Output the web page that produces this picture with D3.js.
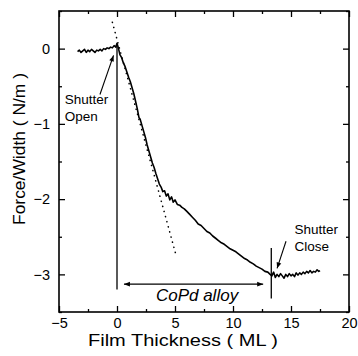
<!DOCTYPE html>
<html>
<head>
<meta charset="utf-8">
<script src="https://cdn.jsdelivr.net/npm/d3@7/dist/d3.min.js"></script>
<style>
  html, body { margin: 0; padding: 0; background: #fff; }
  svg { display: block; font-family: "Liberation Sans", Arial, sans-serif; }
</style>
</head>
<body>
<div id="chart"></div>
<script>
// Film thickness (ML) and measured force per width (N/m)
const thickness = [
  -3.40, -3.25, -3.10, -2.95, -2.80, -2.65, -2.50, -2.35, -2.20, -2.05,
  -1.90, -1.75, -1.60, -1.45, -1.30, -1.15, -1.00, -0.85, -0.70, -0.55,
  -0.40, -0.25, -0.10, 0.00,
  0.10, 0.25, 0.40, 0.55, 0.70, 0.85, 1.00, 1.15, 1.30, 1.45,
  1.60, 1.75, 1.90, 2.00, 2.15, 2.30, 2.45, 2.60, 2.75, 2.90,
  3.05, 3.20, 3.35, 3.50, 3.65, 3.80, 3.95, 4.10, 4.25, 4.40,
  4.55, 4.70, 4.85, 5.00, 5.20, 5.40, 5.60, 5.80, 6.00, 6.25,
  6.50, 6.75, 7.00, 7.25, 7.50, 7.75, 8.00, 8.25, 8.50, 8.75,
  9.00, 9.25, 9.50, 9.75, 10.00, 10.25, 10.50, 10.75, 11.00, 11.25,
  11.50, 11.75, 12.00, 12.25, 12.50, 12.75, 13.00, 13.20,
  13.35, 13.50, 13.65, 13.80, 13.95, 14.10, 14.25, 14.40, 14.55, 14.70,
  14.85, 15.00, 15.15, 15.30, 15.45, 15.60, 15.75, 15.90, 16.05, 16.20,
  16.35, 16.50, 16.65, 16.80, 16.95, 17.10, 17.25, 17.40, 17.50
];
const force = [
  -0.04, -0.02, -0.05, -0.03, -0.01, -0.05, -0.02, -0.04, -0.01, -0.03,
  -0.05, -0.02, -0.03, -0.01, -0.03, 0.00, -0.01, 0.01, 0.00, 0.02,
  0.01, 0.04, 0.02, 0.07,
  0.02, -0.08, -0.12, -0.19, -0.24, -0.31, -0.38, -0.44, -0.52, -0.60,
  -0.70, -0.80, -0.92, -0.94, -1.02, -1.10, -1.18, -1.28, -1.36, -1.44,
  -1.52, -1.58, -1.66, -1.73, -1.80, -1.84, -1.90, -1.89, -1.96, -1.93,
  -2.01, -1.97, -2.04, -2.01, -2.07, -2.08, -2.11, -2.13, -2.16, -2.20,
  -2.24, -2.28, -2.33, -2.35, -2.39, -2.43, -2.45, -2.49, -2.52, -2.55,
  -2.58, -2.60, -2.63, -2.66, -2.68, -2.70, -2.73, -2.76, -2.79, -2.81,
  -2.84, -2.86, -2.89, -2.91, -2.93, -2.96, -2.97, -3.00,
  -3.02, -2.97, -3.04, -3.00, -3.03, -2.99, -3.02, -3.05, -3.00, -3.03,
  -2.99, -3.02, -3.00, -3.03, -2.98, -3.01, -2.98, -3.00, -2.97, -2.99,
  -2.96, -2.98, -2.95, -2.98, -2.96, -2.97, -2.94, -2.96, -2.95
];

// initial slope guide (dotted)
const slopeX = [-0.4, 5.1];
const slopeY = [0.35, -2.75];

const xTicks = [-5, 0, 5, 10, 15, 20];
const xMinor = [-2.5, 2.5, 7.5, 12.5, 17.5];
const yTicks = [0, -1, -2, -3];
const yMinor = [0.5, -0.5, -1.5, -2.5, -3.5];

const width = 358;
const height = 356;
const margin = { top: 11, right: 9, bottom: 44, left: 59 };

const x = d3.scaleLinear().domain([-5, 20]).range([margin.left, width - margin.right]);
const y = d3.scaleLinear().domain([-3.5, 0.5]).range([height - margin.bottom, margin.top]);

const svg = d3.select('#chart')
  .append('svg')
  .attr('width', width)
  .attr('height', height);

const defs = svg.append('defs');
['arrowEnd', 'arrowStart'].forEach((id, i) => {
  defs.append('marker')
    .attr('id', id)
    .attr('viewBox', '0 0 10 10')
    .attr('refX', i === 0 ? 10 : 0)
    .attr('refY', 5)
    .attr('markerWidth', 8)
    .attr('markerHeight', 6)
    .attr('markerUnits', 'userSpaceOnUse')
    .attr('orient', 'auto')
    .append('path')
    .attr('d', i === 0 ? 'M0,1 L10,5 L0,9 Z' : 'M10,1 L0,5 L10,9 Z')
    .attr('fill', '#000');
});

// Axes with inward ticks on all four sides
const plotH = height - margin.top - margin.bottom;
const plotW = width - margin.left - margin.right;

function tickAxis(axisFn, scale, values, size, transform, labels, pad) {
  const g = svg.append('g')
    .attr('transform', transform)
    .call(axisFn(scale).tickValues(values).tickSizeInner(size).tickSizeOuter(0)
      .tickPadding(labels ? pad : 0)
      .tickFormat(labels ? d3.format('d') : ''));
  g.select('.domain').remove();
  g.selectAll('.tick line').attr('stroke', '#000').attr('stroke-width', 1.3);
  g.selectAll('.tick text')
    .attr('fill', '#000')
    .style('font-size', '14.5px');
  return g;
}

const atBottom = `translate(0,${height - margin.bottom})`;
const atTop = `translate(0,${margin.top})`;
const atLeft = `translate(${margin.left},0)`;
const atRight = `translate(${width - margin.right},0)`;

tickAxis(d3.axisBottom, x, xTicks, -6, atBottom, true, 6);
tickAxis(d3.axisBottom, x, xMinor, -3, atBottom, false);
tickAxis(d3.axisTop, x, xTicks, -6, atTop, false);
tickAxis(d3.axisTop, x, xMinor, -3, atTop, false);
tickAxis(d3.axisLeft, y, yTicks, -6, atLeft, true, 9);
tickAxis(d3.axisLeft, y, yMinor, -3, atLeft, false);
tickAxis(d3.axisRight, y, yTicks, -6, atRight, false);
tickAxis(d3.axisRight, y, yMinor, -3, atRight, false);

svg.append('rect')
  .attr('x', margin.left)
  .attr('y', margin.top)
  .attr('width', plotW)
  .attr('height', plotH)
  .attr('fill', 'none')
  .attr('stroke', '#000')
  .attr('stroke-width', 1.6);

// Axis titles (glyphs stretched a little, like the wide scanned lettering)
svg.append('text')
  .attr('x', (margin.left + width - margin.right) / 2 - 21)
  .attr('y', 346)
  .attr('text-anchor', 'middle')
  .attr('textLength', 190)
  .attr('lengthAdjust', 'spacingAndGlyphs')
  .style('font-size', '16px')
  .text('Film Thickness ( ML )');

svg.append('text')
  .attr('transform', `translate(25,149) rotate(-90)`)
  .attr('text-anchor', 'middle')
  .attr('textLength', 152)
  .attr('lengthAdjust', 'spacingAndGlyphs')
  .style('font-size', '16.5px')
  .text('Force/Width ( N/m )');

// Dotted initial-slope guide
svg.append('line')
  .attr('x1', x(slopeX[0])).attr('y1', y(slopeY[0]))
  .attr('x2', x(slopeX[1])).attr('y2', y(slopeY[1]))
  .attr('stroke', '#000')
  .attr('stroke-width', 1.6)
  .attr('stroke-linecap', 'round')
  .attr('stroke-dasharray', '0.1,5.2');

// Shutter markers
svg.append('line')
  .attr('x1', x(0)).attr('y1', y(0.06))
  .attr('x2', x(0)).attr('y2', y(-3.2))
  .attr('stroke', '#000').attr('stroke-width', 1.3);

svg.append('line')
  .attr('x1', x(13.3)).attr('y1', y(-2.65))
  .attr('x2', x(13.3)).attr('y2', y(-3.32))
  .attr('stroke', '#000').attr('stroke-width', 1.3);

// Data trace
const line = d3.line()
  .x((d, i) => x(thickness[i]))
  .y(d => y(d));

svg.append('path')
  .datum(force)
  .attr('d', line)
  .attr('fill', 'none')
  .attr('stroke', '#000')
  .attr('stroke-width', 1.6)
  .attr('stroke-linejoin', 'round');

// CoPd alloy span arrow
svg.append('line')
  .attr('x1', x(0.6)).attr('y1', y(-3.13))
  .attr('x2', x(12.6)).attr('y2', y(-3.13))
  .attr('stroke', '#000').attr('stroke-width', 1.2)
  .attr('marker-start', 'url(#arrowStart)')
  .attr('marker-end', 'url(#arrowEnd)');

svg.append('text')
  .attr('x', x(6.9))
  .attr('y', y(-3.36))
  .attr('text-anchor', 'middle')
  .style('font-size', '17px')
  .style('font-style', 'italic')
  .text('CoPd alloy');

// Shutter annotations
function note(lines, tx, ty, ax1, ay1, ax2, ay2) {
  const t = svg.append('text').style('font-size', '13.5px');
  lines.forEach((s, i) => {
    t.append('tspan')
      .attr('x', x(tx))
      .attr('y', y(ty) + i * 17)
      .text(s);
  });
  svg.append('line')
    .attr('x1', x(ax1)).attr('y1', y(ay1))
    .attr('x2', x(ax2)).attr('y2', y(ay2))
    .attr('stroke', '#000').attr('stroke-width', 1.1)
    .attr('marker-end', 'url(#arrowEnd)');
}

note(['Shutter', 'Open'], -4.5, -0.74, -1.47, -0.61, -0.3, -0.09);
note(['Shutter', 'Close'], 15.3, -2.47, 14.57, -2.56, 13.8, -2.92);
</script>
</body>
</html>
